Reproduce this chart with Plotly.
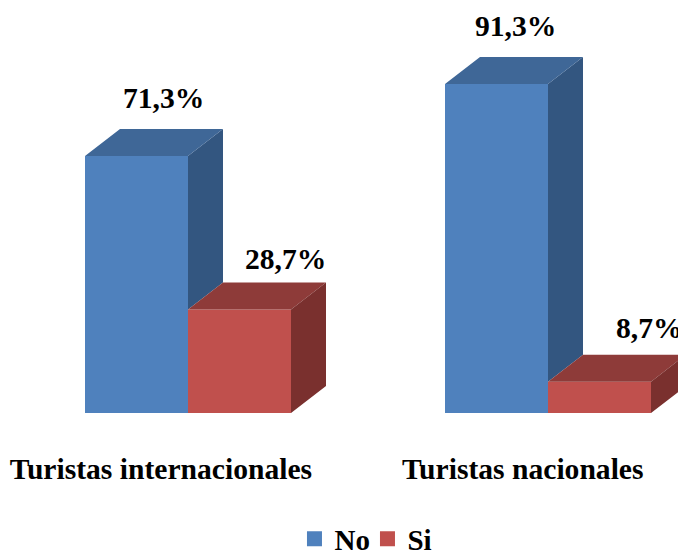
import plotly.graph_objects as go

categories = ["Turistas internacionales", "Turistas nacionales"]
no_values = [71.3, 91.3]
si_values = [28.7, 8.7]
series_names = ["No", "Si"]

BLUE, BLUE_TOP, BLUE_SIDE = "#4F81BD", "#3F6797", "#335680"
RED, RED_TOP, RED_SIDE = "#C0504D", "#8E3B39", "#7A302E"
FONT = dict(family="Liberation Serif", size=29.6, color="black")

W, H = 678, 555
BASE_PX, PX_PER_PCT, PX_PER_CAT = 413, 3.604, 360
CAT0_PX = 188
BAR_W = 103 / PX_PER_CAT
DX, DY = 35 / PX_PER_CAT, 27 / PX_PER_PCT
xs = list(range(len(categories)))

def top_face(x0, x1, v):
    return [x0, x0 + DX, x1 + DX, x1, x0, None], [v, v + DY, v + DY, v, v, None]

def side_face(x, v_low, v_high):
    return [x, x + DX, x + DX, x, x, None], [v_low, v_low + DY, v_high + DY, v_high, v_low, None]

def collect(polys):
    px, py = [], []
    for a, b in polys:
        px += a
        py += b
    return px, py

def poly(polys, color):
    px, py = collect(polys)
    return go.Scatter(x=px, y=py, mode="lines", line=dict(width=0), fill="toself", fillcolor=color,
                      hoverinfo="skip", showlegend=False)

fig = go.Figure()
fig.add_bar(x=[c - BAR_W / 2 for c in xs], y=no_values, width=BAR_W, marker=dict(color=BLUE, line_width=0),
            showlegend=False, name=series_names[0])
fig.add_bar(x=[c + BAR_W / 2 for c in xs], y=si_values, width=BAR_W, marker=dict(color=RED, line_width=0),
            showlegend=False, name=series_names[1])

fig.add_trace(poly([side_face(c, s, n) for c, n, s in zip(xs, no_values, si_values)], BLUE_SIDE))
fig.add_trace(poly([top_face(c - BAR_W, c, n) for c, n in zip(xs, no_values)], BLUE_TOP))
fig.add_trace(poly([top_face(c, c + BAR_W, s) for c, s in zip(xs, si_values)], RED_TOP))
fig.add_trace(poly([side_face(c + BAR_W, 0, s) for c, s in zip(xs, si_values)], RED_SIDE))

for name, color in zip(series_names, [BLUE, RED]):
    fig.add_trace(go.Scatter(x=[None], y=[None], mode="markers", name=name,
                             marker=dict(symbol="square", size=15, color=color)))

label_shift = {"no": [(27, 58), (19, 58)], "si": [(46, 51), (50, 54)]}
for c in xs:
    for key, vals, sign in (("no", no_values, -1), ("si", si_values, 1)):
        sx, sy = label_shift[key][c]
        fig.add_annotation(x=c + sign * BAR_W / 2, y=vals[c], xref="x", yref="y",
                           text=f"<b>{vals[c]:.1f}%</b>".replace(".", ","), showarrow=False,
                           xshift=sx, yshift=sy, font=FONT, xanchor="center", yanchor="middle")

fig.update_layout(
    width=W, height=H, margin=dict(l=0, r=0, t=0, b=H - BASE_PX),
    paper_bgcolor="white", plot_bgcolor="white",
    font=FONT, hovermode=False,
    showlegend=True,
    legend=dict(orientation="h", x=0.542, xanchor="center", xref="container",
                y=0.029, yanchor="middle", yref="container",
                font=dict(family="Liberation Serif", size=29, color="black", weight="bold"),
                itemwidth=30, entrywidth=28, entrywidthmode="pixels", bgcolor="rgba(0,0,0,0)"),
    xaxis=dict(range=[-CAT0_PX / PX_PER_CAT, (W - CAT0_PX) / PX_PER_CAT], tickmode="array",
               tickvals=[-0.075, 0.93], ticktext=[f"<b>{c}</b>" for c in categories],
               showgrid=False, zeroline=False, showline=False, ticks="", ticklabelstandoff=35,
               tickangle=0, tickfont=FONT),
    yaxis=dict(range=[0, BASE_PX / PX_PER_PCT], visible=False, showgrid=False, zeroline=False),
)
fig.write_html("out.html", config=dict(displayModeBar=False),
               post_script="document.body.style.margin='0';document.body.style.overflow='hidden';")
